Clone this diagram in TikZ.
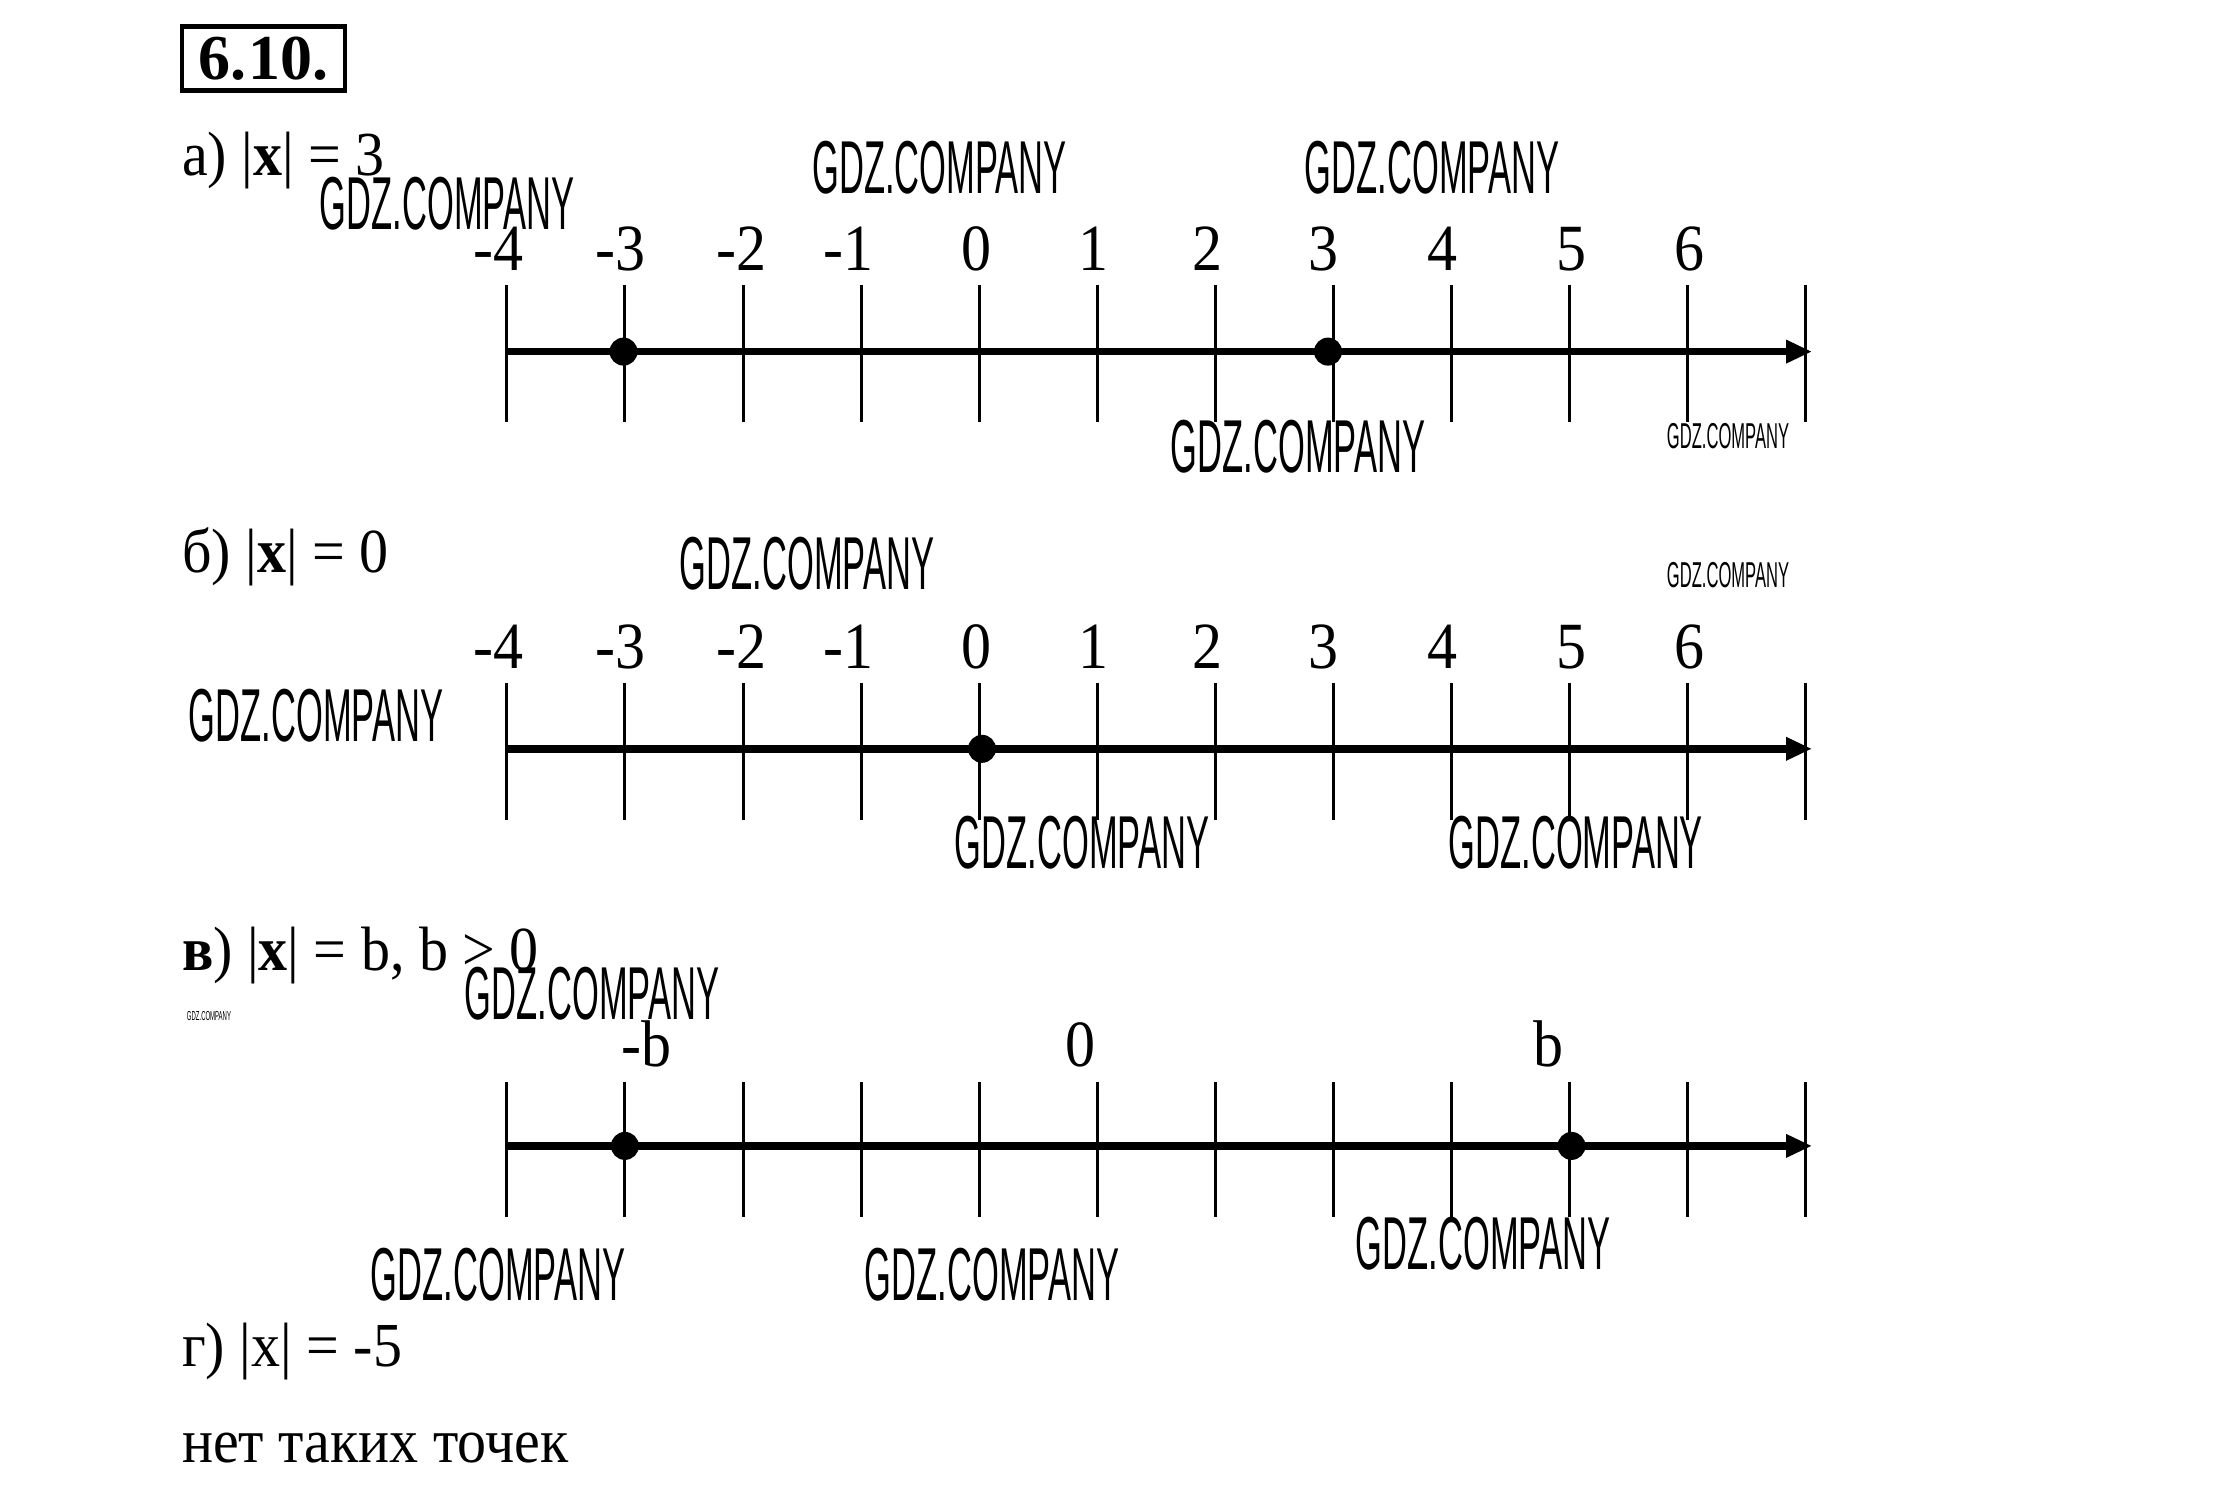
\documentclass[tikz,border=0pt]{standalone}
\usepackage{fontspec}
\setmainfont{Liberation Serif}
\newfontfamily\wmfont[FakeStretch=0.46]{Liberation Sans}
\usetikzlibrary{arrows.meta}
\begin{document}
\begin{tikzpicture}[x=1pt,y=-1pt,
 txt/.style={font=\fontsize{58}{60}\selectfont, inner sep=0, anchor=base west, yscale=1.08},
 lbl/.style={font=\fontsize{60}{60}\selectfont, inner sep=0, anchor=base, yscale=1.1},
 wm/.style={font=\wmfont\fontsize{75}{75}\selectfont, inner sep=0},
 wms/.style={font=\wmfont\fontsize{36}{36}\selectfont, inner sep=0},
 wmt/.style={font=\wmfont\fontsize{13}{13}\selectfont, inner sep=0},
 axisline/.style={line width=7.5pt, -{Triangle[length=26pt,width=22pt]}},
 tickline/.style={line width=3pt},
 dotmark/.style={circle, fill, inner sep=0, minimum size=28pt},
]
\useasboundingbox[fill=white] (0,0) rectangle (2232,1505);

% title box
\node (title) [draw, line width=4.5pt, minimum width=163pt, minimum height=64pt, inner sep=0,
  font=\fontsize{64}{64}\selectfont\bfseries] at (263.5,58.5) {6.\kern2pt10.};

% headings
\node[txt] (ha) at (182,175) {а) |\textbf{x}| = 3};
\node[txt] (hb) at (182,572) {б) |\textbf{x}| = 0};
\node[txt] (hc) at (182,970) {\textbf{в}) |\textbf{x}| = b, b > 0};
\node[txt] (hd) at (182,1366) {г) |x| = -5};
\node[txt] (he) at (182,1462) {нет таких точек};

% ----- axis a
\foreach \k in {0,...,11} \draw[tickline] ({506.8+118.1*\k},285) -- ++(0,137);
\coordinate (a0) at (506.8,351.6);
\coordinate (a1) at (1812,351.6);
\draw[axisline] (a0) -- (a1);
\foreach \v/\x [count=\i] in {-4/498.2,-3/620.6,-2/741.6,-1/848.4,0/976.5,1/1093.2,2/1207.1,3/1323.9,4/1442,5/1571.5,6/1689.7}
  \node[lbl] (la\i) at (\x,270) {\v};
\node[dotmark] (da1) at (623.5,351.6) {};
\node[dotmark] (da2) at (1328,351.6) {};

% ----- axis b
\foreach \k in {0,...,11} \draw[tickline] ({506.8+118.1*\k},683) -- ++(0,137);
\coordinate (b0) at (506.8,748.8);
\coordinate (b1) at (1812,748.8);
\draw[axisline] (b0) -- (b1);
\foreach \v/\x [count=\i] in {-4/498.2,-3/620.6,-2/741.6,-1/848.4,0/976.5,1/1093.2,2/1207.1,3/1323.9,4/1442,5/1571.5,6/1689.7}
  \node[lbl] (lb\i) at (\x,668) {\v};
\node[dotmark] (db1) at (982,748.8) {};

% ----- axis c
\foreach \k in {0,...,11} \draw[tickline] ({506.8+118.1*\k},1082) -- ++(0,135);
\coordinate (c0) at (506.8,1145.9);
\coordinate (c1) at (1812,1145.9);
\draw[axisline] (c0) -- (c1);
\node[lbl] (lc1) at (646.3,1066) {-b};
\node[lbl] (lc2) at (1080.4,1066) {0};
\node[lbl] (lc3) at (1548.8,1066) {b};
\node[dotmark] (dc1) at (624.9,1145.9) {};
\node[dotmark] (dc2) at (1571.5,1145.9) {};

% watermarks
\node[wm] (w1) at (447,203.6) {GDZ.COMPANY};
\node[wm] (w2) at (939.5,168) {GDZ.COMPANY};
\node[wm] (w3) at (1432,168) {GDZ.COMPANY};
\node[wm] (w4) at (1298,447) {GDZ.COMPANY};
\node[wms] (w5) at (1728,435.6) {GDZ.COMPANY};
\node[wm] (w6) at (807,563.7) {GDZ.COMPANY};
\node[wms] (w7) at (1728,575) {GDZ.COMPANY};
\node[wm] (w8) at (316,716) {GDZ.COMPANY};
\node[wm] (w9) at (1082,842.7) {GDZ.COMPANY};
\node[wm] (w10) at (1575.8,842.7) {GDZ.COMPANY};
\node[wm] (w11) at (592,993.6) {GDZ.COMPANY};
\node[wmt] (w12) at (209,1016) {GDZ.COMPANY};
\node[wm] (w13) at (498,1275) {GDZ.COMPANY};
\node[wm] (w14) at (992,1275) {GDZ.COMPANY};
\node[wm] (w15) at (1483,1244) {GDZ.COMPANY};
\end{tikzpicture}
\end{document}
